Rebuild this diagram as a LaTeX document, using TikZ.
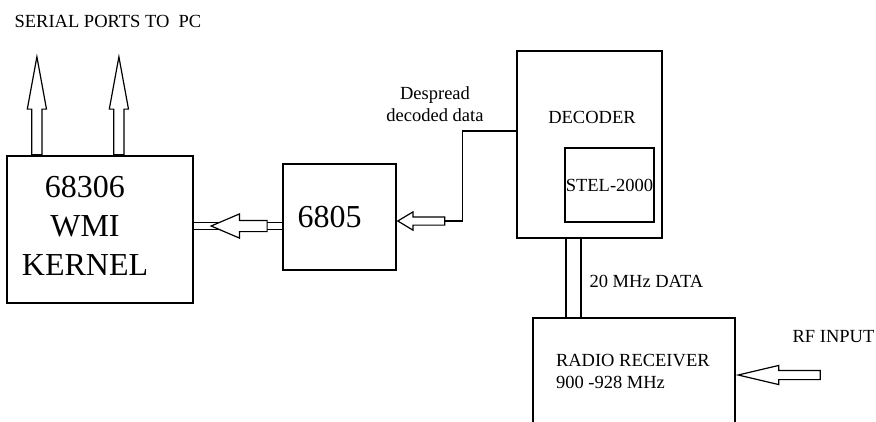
\documentclass[tikz,border=0pt]{standalone}
\usepackage{fontspec}
\setmainfont{Liberation Serif}
\usetikzlibrary{positioning,shapes.arrows,backgrounds}

\begin{document}
\begin{tikzpicture}[
  x=1pt, y=-1pt, line width=1.2pt,
  box/.style 2 args={draw, minimum width=#1, minimum height=#2, inner sep=0pt},
  lbl/.style={font=\fontsize{18.5}{22}\selectfont, inner sep=0pt},
  biglbl/.style={font=\fontsize{32}{39}\selectfont, inner sep=0pt},
  hollow/.style={single arrow, draw, fill=white, inner xsep=0pt, inner ysep=#1,
                 single arrow head indent=0pt},
  bus/.style={double, double distance=#1},
]
\useasboundingbox (0,0) rectangle (876,421);
\clip (0,0) rectangle (876,421);

\node[box={186pt}{147pt}] (kernel)  at (100,229.5)  {};
\node[box={113pt}{106pt}] (chip)    at (339.5,217)  {};
\node[box={145pt}{187pt}] (decoder) at (589.5,144.5) {};
\node[box={89pt}{74pt}, anchor=south east] (stel)
     at ([xshift=-8pt,yshift=16pt]decoder.south east) {};
\node[box={202pt}{114pt}] (radio)   at (634,375)    {};

\node[biglbl, align=center] (kerneltxt) at ([xshift=-15pt,yshift=3.5pt]kernel.center) {68306\\WMI\\KERNEL};
\node[biglbl] (chiptxt) at ([xshift=-10pt]chip.center) {6805};
\node[lbl] (dectxt) at ([xshift=2.5pt,yshift=-67pt]decoder.north) {DECODER};
\node[lbl] (steltxt) at (stel.center) {STEL-2000};
\node[lbl, align=left, anchor=west] (radiotxt)
     at ([xshift=23pt,yshift=-54.5pt]radio.north west) {RADIO RECEIVER\\900 -928 MHz};

% serial ports
\node[hollow=4.5pt, rotate=90, anchor=tail, minimum height=98pt, minimum width=18pt,
      single arrow head extend=4.5pt, single arrow tip angle=20.8] (port1)
     at ([xshift=30.5pt]kernel.north west) {};
\node[hollow=4.5pt, rotate=90, anchor=tail, minimum height=98pt, minimum width=18pt,
      single arrow head extend=4.5pt, single arrow tip angle=20.8] (port2)
     at ([xshift=112.5pt]kernel.north west) {};
\node[lbl, anchor=west] (serial) at (14,21) {SERIAL PORTS TO\ \ PC};

% 6805 -> kernel
\node[hollow=5pt, rotate=180, anchor=tip, minimum height=56pt, minimum width=23pt,
      single arrow head extend=6.5pt, single arrow tip angle=46.2] (busarrow)
     at ([xshift=16pt,yshift=3.5pt]kernel.east) {};
\begin{scope}[on background layer]
  \draw[bus=6.8pt] (kernel.east |- busarrow.tip) -- (chip.west |- busarrow.tip);
\end{scope}

% decoder -> 6805
\node[hollow=3.5pt, rotate=180, anchor=tip, minimum height=47pt, minimum width=17pt,
      single arrow head extend=5pt, single arrow tip angle=62] (inarrow)
     at ([yshift=-4pt]chip.east) {};
\draw (inarrow.tail) -- ++(17,0) |- ([yshift=13.5pt]decoder.west);
\node[lbl, align=center] (despread) at (435,104) {Despread\\decoded data};

% receiver -> decoder
\draw[bus=13.8pt] ([xshift=-16pt]decoder.south) -- ([xshift=-16pt]decoder.south |- radio.north);
\node[lbl, anchor=west] (mhz) at (589,281) {20 MHz DATA};

% rf input
\node[hollow=4pt, rotate=180, anchor=tip, minimum height=82pt, minimum width=18pt,
      single arrow head extend=5pt, single arrow tip angle=26.6] (rfarrow)
     at (radio.east) {};
\node[lbl, anchor=west] (rf) at (792,337) {RF INPUT};
\end{tikzpicture}
\end{document}
